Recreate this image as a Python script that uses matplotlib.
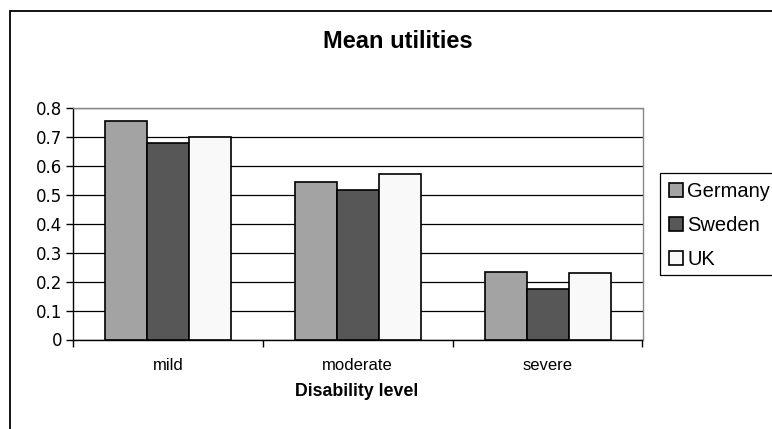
import matplotlib
matplotlib.use("Agg")
import matplotlib.pyplot as plt
import numpy as np
from matplotlib.patches import Rectangle
from matplotlib.font_manager import FontProperties

categories = ["mild", "moderate", "severe"]
series_names = ["Germany", "Sweden", "UK"]
germany = [0.756, 0.545, 0.233]
sweden = [0.679, 0.518, 0.173]
uk = [0.700, 0.571, 0.229]
yticks = [0, 0.1, 0.2, 0.3, 0.4, 0.5, 0.6, 0.7, 0.8]
ytick_labels = ["0", "0.1", "0.2", "0.3", "0.4", "0.5", "0.6", "0.7", "0.8"]

colors = ["#a3a3a3", "#575757", "#f9f9f9"]

plt.rcParams['font.family'] = ['DejaVu Sans']
ARIAL = ["Liberation Sans", "DejaVu Sans"]

W, H = 772, 429
fig = plt.figure(figsize=(W / 100, H / 100), dpi=100)

# outer chart frame (extends beyond right/bottom edge)
fig.patches.append(Rectangle((10 / W, -0.2), 1.2, 1.2 - 11 / H,
                             transform=fig.transFigure, fill=False,
                             edgecolor="black", linewidth=1.3, clip_on=False))

ax_l, ax_b, ax_r, ax_t = 73, 339.5, 642.5, 108
ax = fig.add_axes([ax_l / W, 1 - ax_b / H, (ax_r - ax_l) / W, (ax_b - ax_t) / H])

x = np.arange(len(categories))
bw = 0.221
for i, (vals, c, name) in enumerate(zip([germany, sweden, uk], colors, series_names)):
    ax.bar(x + (i - 1) * bw, vals, width=bw, color=c, edgecolor="black",
           linewidth=1.2, label=name, zorder=3)

ax.set_xlim(-0.5, len(categories) - 0.5)
ax.set_ylim(0, 0.8)
ax.set_yticks(yticks)
ax.set_yticklabels(ytick_labels)
ax.yaxis.grid(True, color="black", linewidth=0.9, zorder=0)
ax.set_axisbelow(True)

ax.set_xticks(np.arange(len(categories) + 1) - 0.5)
ax.set_xticklabels([])
ax.set_xticks(x, minor=True)
ax.set_xticklabels(categories, minor=True)
ax.tick_params(axis="x", which="minor", length=0, pad=13.5, labelsize=12,
               labelfontfamily="Liberation Sans")
ax.tick_params(axis="x", which="major", length=5, width=1, direction="out")
ax.tick_params(axis="y", length=5, width=1, direction="out", pad=3,
               labelsize=12, labelfontfamily="DejaVu Sans")

for s in ["top", "right"]:
    ax.spines[s].set_color("#888888")
    ax.spines[s].set_linewidth(1.0)
for s in ["left", "bottom"]:
    ax.spines[s].set_color("black")
    ax.spines[s].set_linewidth(1.0)

ax.set_xlabel("Disability level",
              fontproperties=FontProperties(family=ARIAL, size=12.8, weight="bold"))
ax.xaxis.set_label_coords((357 - ax_l) / (ax_r - ax_l), -(383 - ax_b) / (ax_b - ax_t))

fig.text(397.5 / W, 1 - 41.5 / H, "Mean utilities", ha="center", va="center",
         fontproperties=FontProperties(family=ARIAL, size=17, weight="bold"))

leg = fig.legend(loc="upper left", bbox_to_anchor=(660 / W, 1 - 173 / H),
                 prop=FontProperties(family=ARIAL, size=14.5), frameon=False,
                 handlelength=0.7, handleheight=0.7,
                 handletextpad=0.2, borderpad=0.45, labelspacing=0.75,
                 borderaxespad=0)
# legend box, running past the right edge of the picture as in the original
fig.patches.append(Rectangle((660 / W, 1 - 275 / H), 200 / W, 102 / H,
                             transform=fig.transFigure, fill=False,
                             edgecolor="black", linewidth=0.9, clip_on=False))

fig.savefig("out.png", dpi=100)
